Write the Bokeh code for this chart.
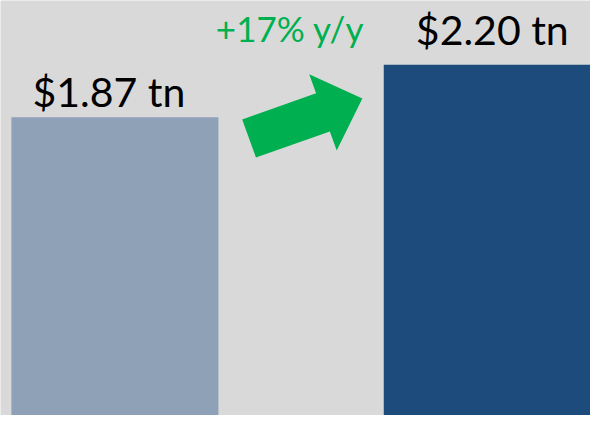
import math
from bokeh.plotting import figure
from bokeh.models import ColumnDataSource, Range1d
from bokeh.core.properties import value
from bokeh.embed import file_html
from bokeh.resources import INLINE

# ---- data ----
periods = ["Prior year", "Current year"]
values = [1.87, 2.20]
growth_label = "+17% y/y"
bar_colors = ["#8EA1B7", "#1D4B7B"]

# ---- geometry ----
W, H = 590, 415
SX, SY = W / 606, H / 431          # scale of the reference layout
PX_X = 382.5 * SX                  # pixels per x unit (bar spacing)
PX_Y = 165.6 * SY                  # pixels per y unit
X0_PX = 117.5 * SX                 # left edge to first bar centre

x_min = -X0_PX / PX_X
x_max = x_min + W / PX_X
y_min = 0.0
y_max = H / PX_Y

p = figure(width=W, height=H, output_backend="svg", toolbar_location=None,
           x_range=Range1d(x_min, x_max), y_range=Range1d(y_min, y_max),
           x_axis_type=None, y_axis_type=None, min_border=0)
p.background_fill_color = "#D9D9D9"
p.border_fill_color = "#D9D9D9"
p.outline_line_color = None
p.grid.visible = False

xs = list(range(len(values)))
labels = [f"${v:.2f} tn" for v in values]
src = ColumnDataSource(dict(x=xs, top=values, color=bar_colors, label=labels))
p.vbar(x="x", top="top", bottom=0, width=0.556, fill_color="color",
       line_color=None, source=src)

FONT = value("Lato")
BASE_FIX = -16  # alphabetic baseline correction for 41px text
p.text(x=[xs[0]], y=[values[0]], text=[labels[0]], text_font=FONT,
       text_font_size="41px", text_align="center", text_baseline="alphabetic",
       text_color="black", x_offset=-6, y_offset=-10 + BASE_FIX)
p.text(x=[xs[1]], y=[values[1]], text=[labels[1]], text_font=FONT,
       text_font_size="41px", text_align="center", text_baseline="alphabetic",
       text_color="black", x_offset=5, y_offset=-19 + BASE_FIX)

# growth label between the bars
mid = (xs[0] + xs[1]) / 2
p.text(x=[mid], y=[max(values)], text=[growth_label], text_font=FONT,
       text_font_size="35px", text_align="center", text_baseline="alphabetic",
       text_color="#00B050", x_offset=-11, y_offset=-24 - 13)

# block arrow: laid out in reference pixel space, converted to data
def px_to_data(px, py):
    fx, fy = px * SX, py * SY
    return (fx / PX_X + x_min, y_max - fy / PX_Y)

tail = (255.3, 143.3)
tip = (371.7, 101.7)
shaft_w, head_w, head_len = 42.0, 84.0, 43.0
dx, dy = tip[0] - tail[0], tip[1] - tail[1]
L = math.hypot(dx, dy)
ux, uy = dx / L, dy / L
nx, ny = -uy, ux
base = (tip[0] - ux * head_len, tip[1] - uy * head_len)
pts = [
    (tail[0] + nx * shaft_w / 2, tail[1] + ny * shaft_w / 2),
    (base[0] + nx * shaft_w / 2, base[1] + ny * shaft_w / 2),
    (base[0] + nx * head_w / 2, base[1] + ny * head_w / 2),
    tip,
    (base[0] - nx * head_w / 2, base[1] - ny * head_w / 2),
    (base[0] - nx * shaft_w / 2, base[1] - ny * shaft_w / 2),
    (tail[0] - nx * shaft_w / 2, tail[1] - ny * shaft_w / 2),
]
dpts = [px_to_data(a, b) for a, b in pts]
p.patch(x=[d[0] for d in dpts], y=[d[1] for d in dpts], fill_color="#00B050",
        line_color=None)

open("out.html", "w").write(file_html(p, INLINE))
